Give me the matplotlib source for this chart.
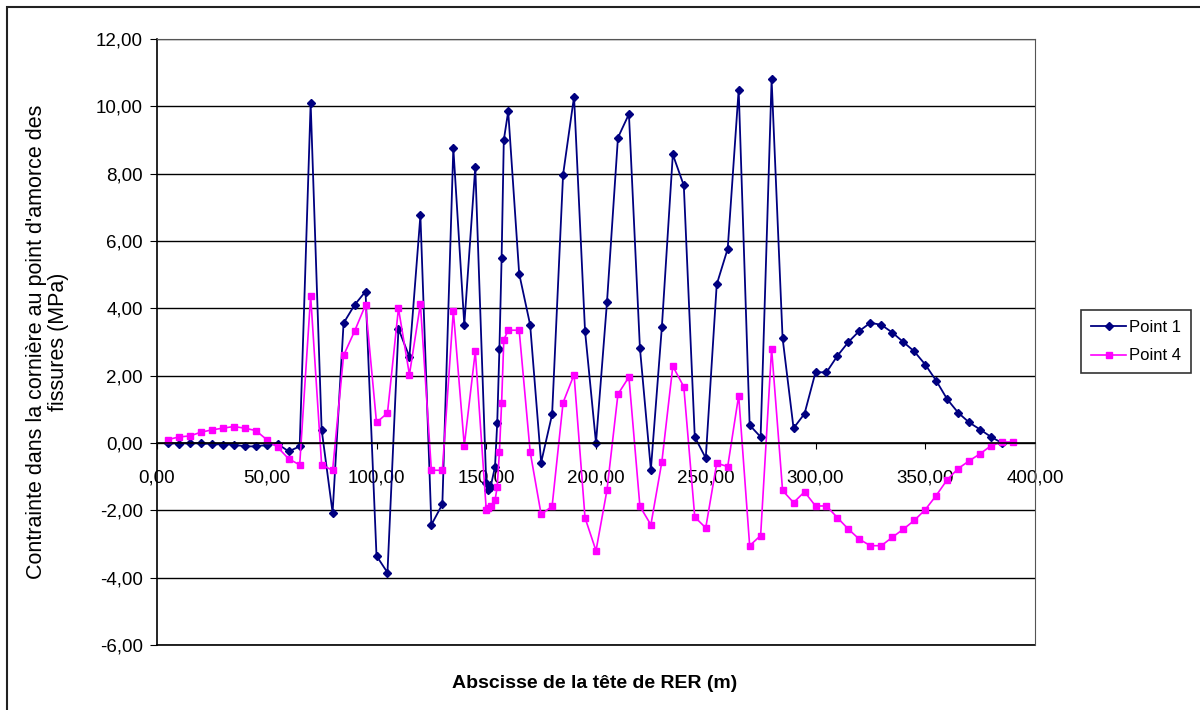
import matplotlib
matplotlib.use("Agg")
import matplotlib.pyplot as plt
from matplotlib.patches import Rectangle
from matplotlib.ticker import FuncFormatter

plt.rcParams['font.family'] = ['Liberation Sans', 'DejaVu Sans']

# abscisse (m)
x_p1 = [5, 10, 15, 20, 25, 30, 35, 40, 45, 50, 55, 60, 65, 70, 75, 80, 85, 90, 95, 100,
        105, 110, 115, 120, 125, 130, 135, 140, 145, 150, 151, 152, 154, 155, 156, 157, 158, 160,
        165, 170, 175, 180, 185, 190, 195, 200, 205, 210, 215, 220, 225, 230, 235, 240,
        245, 250, 255, 260, 265, 270, 275, 280, 285, 290, 295, 300, 305, 310, 315, 320,
        325, 330, 335, 340, 345, 350, 355, 360, 365, 370, 375, 380, 385]
y_p1 = [0.0, -0.02, 0.0, -0.01, -0.03, -0.05, -0.05, -0.1, -0.1, -0.06, -0.03, -0.25, -0.1,
        10.1, 0.4, -2.07, 3.56, 4.1, 4.5, -3.35, -3.85, 3.39, 2.56, 6.76, -2.43, -1.82, 8.76,
        3.51, 8.2, -1.2, -1.4, -1.3, -0.7, 0.6, 2.8, 5.5, 9.0, 9.85, 5.03, 3.51, -0.58, 0.85,
        7.97, 10.29, 3.33, 0.0, 4.18, 9.07, 9.77, 2.83, -0.79, 3.44, 8.57, 7.65, 0.18, -0.45,
        4.71, 5.77, 10.5, 0.53, 0.18, 10.8, 3.12, 0.44, 0.87, 2.1, 2.1, 2.59, 3.0, 3.33, 3.57,
        3.51, 3.28, 3.0, 2.72, 2.33, 1.85, 1.3, 0.9, 0.61, 0.4, 0.18, 0.0]

x_p4 = x_p1 + [390]
y_p4 = [0.1, 0.18, 0.21, 0.32, 0.39, 0.44, 0.49, 0.44, 0.37, 0.1, -0.13, -0.47, -0.65,
        4.37, -0.65, -0.81, 2.6, 3.32, 4.1, 0.61, 0.89, 4.0, 2.03, 4.13, -0.81, -0.81, 3.92,
        -0.08, 2.72, -1.98, -1.93, -1.88, -1.7, -1.3, -0.26, 1.19, 3.07, 3.35, 3.35, -0.26,
        -2.12, -1.88, 1.2, 2.03, -2.22, -3.2, -1.4, 1.45, 1.96, -1.88, -2.43, -0.56, 2.28,
        1.67, -2.2, -2.52, -0.6, -0.7, 1.41, -3.05, -2.75, 2.8, -1.41, -1.77, -1.45, -1.87,
        -1.87, -2.22, -2.56, -2.86, -3.05, -3.05, -2.8, -2.56, -2.3, -1.98, -1.56, -1.09,
        -0.76, -0.53, -0.32, -0.08, 0.03, 0.03]

fig = plt.figure(figsize=(12, 7.1), dpi=100)
ax = fig.add_axes([157/1200, 1 - 645/710, 878/1200, 606/710])

# cadre du graphique
fig.patches.append(Rectangle((7/1200, -0.05), 1.05, 1 - 7/710 + 0.05, transform=fig.transFigure,
                             fill=False, edgecolor='#222222', linewidth=1.5))

ax.plot(x_p1, y_p1, color='#000080', marker='D', markersize=4.5, linewidth=1.3, label='Point 1')
ax.plot(x_p4, y_p4, color='#FF00FF', marker='s', markersize=5, linewidth=1.2, label='Point 4')

ax.set_xlim(0, 400)
ax.set_ylim(-6, 12)
ax.set_yticks(range(-6, 13, 2))
ax.set_xticks(range(0, 401, 50))
ax.yaxis.grid(True, color='black', linewidth=1)
ax.axhline(-6, color='black', linewidth=1.2, clip_on=False, zorder=0)
ax.set_axisbelow(True)

fmt = FuncFormatter(lambda v, p: f"{v:.2f}".replace('.', ','))
ax.xaxis.set_major_formatter(fmt)
ax.yaxis.set_major_formatter(fmt)

ax.spines['bottom'].set_position(('data', 0))
ax.spines['bottom'].set_linewidth(1.2)
ax.spines['left'].set_linewidth(1.2)
ax.spines['top'].set_color('#555555')
ax.spines['right'].set_color('#555555')
ax.tick_params(axis='y', direction='out', length=5, labelsize=13.5, pad=5)
ax.tick_params(axis='x', direction='out', length=4, labelsize=13.5, pad=15)

ax.set_ylabel("Contrainte dans la cornière au point d'amorce des\nfissures (MPa)",
              fontsize=15.5, linespacing=1.05)
ax.yaxis.set_label_coords(-0.1, 0.5)
fig.text(595/1200, 1 - 683/710, "Abscisse de la tête de RER (m)", ha='center', va='center',
         fontsize=14, fontweight='bold')

leg = fig.legend(loc='upper left', bbox_to_anchor=(1081/1200, 1 - 310/710), fontsize=12,
                 frameon=True, fancybox=False, edgecolor='black', handlelength=2.1,
                 borderpad=0.6, labelspacing=0.8, handletextpad=0.2, borderaxespad=0)
leg.get_frame().set_linewidth(1.2)

fig.savefig("out.png", dpi=100)
